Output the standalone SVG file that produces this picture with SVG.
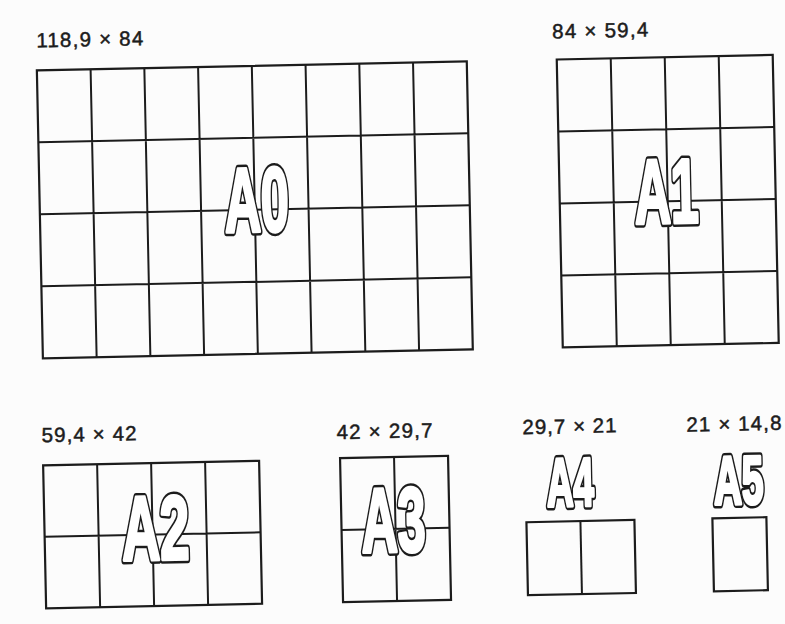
<svg xmlns="http://www.w3.org/2000/svg" width="785" height="624" viewBox="0 0 785 624">
<style>
.frame{fill:none;stroke:#1c1c1c;stroke-width:2.2}
.grid{stroke:#1c1c1c;stroke-width:2;fill:none}
.dim{font-family:"Liberation Sans",Arial,sans-serif;font-size:20.5px;fill:#1c1c1c;stroke:#1c1c1c;stroke-width:0.5}
.big{font-family:"Liberation Sans",Arial,sans-serif;font-weight:bold;text-anchor:middle;stroke-linejoin:round}
.bo{fill:#1c1c1c;stroke:#1c1c1c;stroke-width:7;vector-effect:non-scaling-stroke}
.bi{fill:#ffffff;stroke:#ffffff;stroke-width:3;vector-effect:non-scaling-stroke}
</style>
<rect width="785" height="624" fill="#fcfcfc"/>
<g transform="rotate(-1.2 392 312)">
<g id="A0">
<text class="dim" x="42" y="40" textLength="107" lengthAdjust="spacing">118,9 × 84</text>
<rect class="frame" x="42" y="63" width="430" height="288"/>
<path class="grid" d="M95.75 63V351M149.5 63V351M203.25 63V351M257 63V351M310.75 63V351M364.5 63V351M418.25 63V351M42 135H472M42 207H472M42 279H472"/>
<g class="big" font-size="91" transform="translate(259 228.5) scale(0.55 1)"><text class="bo">A0</text><text class="bi">A0</text></g>
</g>
<g id="A1">
<text class="dim" x="558" y="42" textLength="96" lengthAdjust="spacing">84 × 59,4</text>
<rect class="frame" x="562" y="63" width="216" height="288"/>
<path class="grid" d="M616 63V351M670 63V351M724 63V351M562 135H778M562 207H778M562 279H778"/>
<g class="big" font-size="91" transform="translate(669 228.5) scale(0.55 1)"><text class="bo">A1</text><text class="bi">A1</text></g>
</g>
<g id="A2">
<text class="dim" x="39" y="435" textLength="95" lengthAdjust="spacing">59,4 × 42</text>
<rect class="frame" x="40" y="458" width="216" height="143"/>
<path class="grid" d="M94 458V601M148 458V601M202 458V601M40 529.5H256"/>
<g class="big" font-size="91" transform="translate(151 554.5) scale(0.58 1)"><text class="bo">A2</text><text class="bi">A2</text></g>
</g>
<g id="A3">
<text class="dim" x="334" y="438" textLength="96" lengthAdjust="spacing">42 × 29,7</text>
<rect class="frame" x="337" y="457" width="108" height="144"/>
<path class="grid" d="M391 457V601M337 529H445"/>
<g class="big" font-size="91" transform="translate(389 551.5) scale(0.55 1)"><text class="bo">A3</text><text class="bi">A3</text></g>
</g>
<g id="A4">
<text class="dim" x="520" y="437" textLength="94" lengthAdjust="spacing">29,7 × 21</text>
<rect class="frame" x="522" y="525" width="108" height="73"/>
<path class="grid" d="M576 525V598"/>
<g class="big" font-size="68" transform="translate(566.5 509.5) scale(0.54 1)"><text class="bo">A4</text><text class="bi">A4</text></g>
</g>
<g id="A5">
<text class="dim" x="684" y="438" textLength="95" lengthAdjust="spacing">21 × 14,8</text>
<rect class="frame" x="708" y="525" width="54" height="73"/>
<g class="big" font-size="68" transform="translate(735 511) scale(0.57 1)"><text class="bo">A5</text><text class="bi">A5</text></g>
</g>
<g id="connectors"/>
</g>
</svg>
